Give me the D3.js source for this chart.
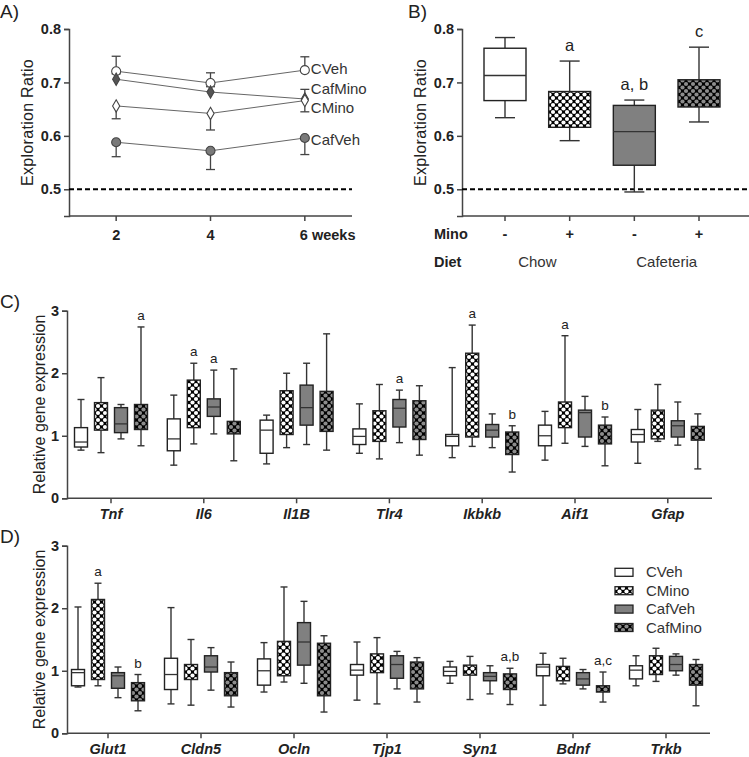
<!DOCTYPE html>
<html><head><meta charset="utf-8">
<script src="https://cdn.jsdelivr.net/npm/d3@7"></script>
<style>body{margin:0;background:#fff} svg{display:block;font-family:"Liberation Sans",Arial,sans-serif}</style>
</head><body><svg id="c" width="749" height="757"></svg>
<script>
// ---------- Panel A data ----------
const weeks=[2,4,6];
const aCVeh=[0.721,0.699,0.723];
const aCVehHi=[0.749,0.718,0.748];
const aCafMino=[0.706,0.682,0.669];
const aCafMinoHi=[0.716,0.692,0.687];
const aCMino=[0.656,0.642,0.666];
const aCMinoLo=[0.632,0.611,0.645];
const aCafVeh=[0.588,0.572,0.596];
const aCafVehLo=[0.561,0.537,0.565];
// ---------- Panel B data ----------
const groups=["CVeh","CMino","CafVeh","CafMino"];
const minoSigns=["-","+","-","+"];
const diets=["Chow","Cafeteria"];
// [min, q1, median, q3, max]
const bStats=[[0.634,0.666,0.713,0.764,0.784],[0.591,0.616,null,0.683,0.740],[0.495,0.545,0.608,0.657,0.667],[0.626,0.654,null,0.705,0.766]];
const bLetters=["","a","a, b","c"];
// ---------- Panel C data ----------
const genesC=["Tnf","Il6","Il1B","Tlr4","Ikbkb","Aif1","Gfap"];
const cCVeh=[[0.77,0.82,0.90,1.13,1.58],[0.53,0.76,0.95,1.27,1.65],[0.55,0.72,1.09,1.25,1.33],[0.72,0.86,0.99,1.11,1.51],[0.65,0.84,0.99,1.02,2.09],[0.61,0.84,1.00,1.17,1.39],[0.56,0.90,1.02,1.10,1.42]];
const cCMino=[[0.73,1.09,null,1.53,1.93],[0.87,1.13,null,1.89,2.16],[0.81,1.02,null,1.72,2.00],[0.63,0.91,null,1.40,1.82],[0.83,0.98,null,2.32,2.77],[0.88,1.13,null,1.54,2.60],[0.91,0.95,null,1.41,1.82]];
const cCafVeh=[[0.95,1.05,1.19,1.45,1.50],[1.03,1.31,1.46,1.59,2.05],[0.86,1.17,1.45,1.81,2.16],[0.89,1.14,1.44,1.58,1.73],[0.81,0.98,1.09,1.18,1.35],[0.83,0.98,1.37,1.41,1.63],[0.85,0.98,1.16,1.24,1.54]];
const cCafMino=[[0.84,1.10,null,1.50,2.74],[0.60,1.03,null,1.23,2.07],[0.77,1.07,null,1.71,2.63],[0.69,0.94,null,1.56,1.80],[0.42,0.70,null,1.06,1.16],[0.52,0.87,null,1.17,1.30],[0.47,0.93,null,1.15,1.35]];
const cLetters=[["","","","a"],["","a","a",""],["","","",""],["","","a",""],["","a","","b"],["","a","","b"],["","","",""]];
// ---------- Panel D data ----------
const genesD=["Glut1","Cldn5","Ocln","Tjp1","Syn1","Bdnf","Trkb"];
const dCVeh=[[0.74,0.76,0.97,1.02,2.02],[0.47,0.70,0.94,1.20,2.01],[0.66,0.77,1.00,1.19,1.45],[0.53,0.93,1.01,1.10,1.46],[0.80,0.92,0.99,1.06,1.15],[0.45,0.92,1.06,1.10,1.28],[0.76,0.87,1.01,1.08,1.24]];
const dCMino=[[0.76,0.86,null,2.14,2.40],[0.45,0.86,null,1.10,1.50],[0.82,0.92,null,1.47,2.34],[0.47,0.97,null,1.27,1.53],[0.54,0.93,null,1.09,1.23],[0.79,0.84,null,1.07,1.20],[0.83,0.94,null,1.24,1.36]];
const dCafVeh=[[0.57,0.72,0.92,0.97,1.06],[0.69,0.98,1.06,1.24,1.37],[0.80,1.09,1.46,1.77,2.11],[0.71,0.88,1.10,1.24,1.31],[0.63,0.84,0.91,0.97,1.08],[0.71,0.77,0.87,0.97,1.02],[0.93,1.00,1.10,1.23,1.27]];
const dCafMino=[[0.36,0.52,null,0.81,0.94],[0.42,0.60,null,0.97,1.14],[0.34,0.60,null,1.44,1.56],[0.50,0.71,null,1.14,1.21],[0.46,0.70,null,0.95,1.04],[0.50,0.66,null,0.76,0.98],[0.44,0.77,null,1.10,1.18]];
const dLetters=[["","a","","b"],["","","",""],["","","",""],["","","",""],["","","","a,b"],["","","","a,c"],["","","",""]];
const yTicksAB=[0.5,0.6,0.7,0.8];
const yTicksCD=[0,1,2,3];

const svg=d3.select("#c");
const defs=svg.append("defs");
function mkPattern(id,dot){
  const p=defs.append("pattern").attr("id",id).attr("patternUnits","userSpaceOnUse").attr("width",7).attr("height",7);
  p.append("rect").attr("width",7).attr("height",7).attr("fill","#000");
  [[0,0],[7,0],[0,7],[7,7],[3.5,3.5]].forEach(([x,y])=>p.append("circle").attr("cx",x).attr("cy",y).attr("r",2.1).attr("fill",dot));
}
mkPattern("pW","#fff");
mkPattern("pG","#8c8c8c");
const fills={CVeh:"#fff",CMino:"url(#pW)",CafVeh:"#808080",CafMino:"url(#pG)"};
const ink="#222";
const txt="#222";

function yAxis(g,scale,x,ticks,fmt){
  const a=g.append("g").attr("transform",`translate(${x},0)`)
    .call(d3.axisLeft(scale).tickValues(ticks).tickFormat(fmt).tickSize(5).tickPadding(3));
  a.select(".domain").attr("stroke","#444").attr("stroke-width",1.5);
  a.selectAll(".tick line").attr("stroke","#444").attr("stroke-width",1.5);
  a.selectAll("text").attr("font-size",14.5).attr("font-weight","bold").style("fill",txt).attr("font-family","Liberation Sans, Arial, sans-serif");
  return a;
}

// ================= Panel A =================
const gA=svg.append("g");
const xA=d3.scaleLinear().domain([1,7]).range([69,352]);
const yA=d3.scaleLinear().domain([0.45,0.8]).range([216,29]);
yAxis(gA,yA,69,yTicksAB,d3.format(".1f"));
gA.append("line").attr("x1",xA(1)).attr("x2",xA(7)).attr("y1",yA(0.45)).attr("y2",yA(0.45)).attr("stroke","#444").attr("stroke-width",1.5);
weeks.forEach(w=>{
  gA.append("line").attr("x1",xA(w)).attr("x2",xA(w)).attr("y1",yA(0.45)).attr("y2",yA(0.45)+5).attr("stroke","#444").attr("stroke-width",1.5);
});
gA.selectAll(".xl").data(weeks).join("text").attr("x",d=>xA(d)).attr("y",240).attr("text-anchor",d=>d===6?"start":"middle")
  .attr("dx",d=>d===6?-5:0)
  .attr("font-size",14.5).attr("font-weight","bold").style("fill",txt).text(d=>d===6?"6 weeks":d);
gA.append("line").attr("x1",xA(1)).attr("x2",xA(7)).attr("y1",yA(0.5)).attr("y2",yA(0.5)).attr("stroke","#000").attr("stroke-width",2).attr("stroke-dasharray","5,3");
gA.append("text").attr("transform",`translate(33,${(yA(0.8)+yA(0.45))/2}) rotate(-90)`).attr("text-anchor","middle").attr("font-size",16).style("fill",txt).attr("letter-spacing",0.3).text("Exploration  Ratio");
gA.append("text").attr("x",0).attr("y",18).attr("font-size",19).style("fill",txt).text("A)");
const seriesA=[
  {name:"CVeh",v:aCVeh,e:aCVehHi,shape:"circle",fill:"#fff",ly:74},
  {name:"CafMino",v:aCafMino,e:aCafMinoHi,shape:"diamond",fill:"#555",ly:94},
  {name:"CMino",v:aCMino,e:aCMinoLo,shape:"diamond",fill:"#fff",ly:112.5},
  {name:"CafVeh",v:aCafVeh,e:aCafVehLo,shape:"circle",fill:"#7a7a7a",ly:144.5}
];
const lineA=d3.line().x((d,i)=>xA(weeks[i])).y(d=>yA(d));
seriesA.forEach(s=>{
  gA.append("path").attr("d",lineA(s.v)).attr("fill","none").attr("stroke","#666").attr("stroke-width",1);
});
seriesA.forEach(s=>{
  s.v.forEach((v,i)=>{
    const x=xA(weeks[i]);
    gA.append("line").attr("x1",x).attr("x2",x).attr("y1",yA(v)).attr("y2",yA(s.e[i])).attr("stroke","#444").attr("stroke-width",1.3);
    gA.append("line").attr("x1",x-4.5).attr("x2",x+4.5).attr("y1",yA(s.e[i])).attr("y2",yA(s.e[i])).attr("stroke","#444").attr("stroke-width",1.3);
  });
});
seriesA.forEach(s=>{
  const sym=d3.symbol().type(s.shape==="circle"?d3.symbolCircle:d3.symbolDiamond).size(s.shape==="circle"?64:44);
  s.v.forEach((v,i)=>{
    gA.append("path").attr("d",sym()).attr("transform",`translate(${xA(weeks[i])},${yA(v)})`).attr("fill",s.fill).attr("stroke","#444").attr("stroke-width",1.1);
  });
  gA.append("text").attr("x",xA(6)+6).attr("y",s.ly).attr("font-size",15).style("fill","#333").text(s.name);
});

// ================= Panel B =================
const gB=svg.append("g");
const yB=d3.scaleLinear().domain([0.45,0.8]).range([216,29]);
const xB=d3.scalePoint().domain(groups).range([505,699]);
yAxis(gB,yB,462,yTicksAB,d3.format(".1f"));
gB.append("line").attr("x1",462).attr("x2",749).attr("y1",yB(0.45)).attr("y2",yB(0.45)).attr("stroke","#444").attr("stroke-width",1.5);
gB.append("line").attr("x1",462).attr("x2",749).attr("y1",yB(0.5)).attr("y2",yB(0.5)).attr("stroke","#000").attr("stroke-width",2).attr("stroke-dasharray","5,3");
groups.forEach((g,i)=>{
  const x=xB(g);
  gB.append("line").attr("x1",x).attr("x2",x).attr("y1",yB(0.45)).attr("y2",yB(0.45)+5).attr("stroke","#444").attr("stroke-width",1.5);
  gB.append("text").attr("x",x).attr("y",239).attr("text-anchor","middle").attr("font-size",14.5).attr("font-weight","bold").style("fill",txt).text(minoSigns[i]);
});
gB.append("text").attr("transform",`translate(426,${(yB(0.8)+yB(0.45))/2}) rotate(-90)`).attr("text-anchor","middle").attr("font-size",16).style("fill",txt).attr("letter-spacing",0.3).text("Exploration Ratio");
gB.append("text").attr("x",408).attr("y",18).attr("font-size",19).style("fill",txt).text("B)");
gB.append("text").attr("x",434).attr("y",239).attr("font-size",14.5).attr("font-weight","bold").style("fill",txt).text("Mino");
gB.append("text").attr("x",434).attr("y",267).attr("font-size",14.5).attr("font-weight","bold").style("fill",txt).text("Diet");
diets.forEach((d,i)=>{
  const cx=(xB(groups[i*2])+xB(groups[i*2+1]))/2;
  gB.append("text").attr("x",cx).attr("y",267).attr("text-anchor","middle").attr("font-size",15).style("fill","#333").text(d);
});
function drawBox(g,x,w,cap,s,fill,ys,lw){
  const [mn,q1,md,q3,mx]=s;
  g.append("line").attr("x1",x).attr("x2",x).attr("y1",ys(mx)).attr("y2",ys(q3)).attr("stroke","#333").attr("stroke-width",lw);
  g.append("line").attr("x1",x).attr("x2",x).attr("y1",ys(q1)).attr("y2",ys(mn)).attr("stroke","#333").attr("stroke-width",lw);
  g.append("line").attr("x1",x-cap/2).attr("x2",x+cap/2).attr("y1",ys(mx)).attr("y2",ys(mx)).attr("stroke","#333").attr("stroke-width",lw);
  g.append("line").attr("x1",x-cap/2).attr("x2",x+cap/2).attr("y1",ys(mn)).attr("y2",ys(mn)).attr("stroke","#333").attr("stroke-width",lw);
  g.append("rect").attr("x",x-w/2).attr("y",ys(q3)).attr("width",w).attr("height",ys(q1)-ys(q3)).attr("fill",fill).attr("stroke",ink).attr("stroke-width",1.4);
  if(md!==null) g.append("line").attr("x1",x-w/2).attr("x2",x+w/2).attr("y1",ys(md)).attr("y2",ys(md)).attr("stroke","#333").attr("stroke-width",1.3);
}
groups.forEach((g,i)=>{
  drawBox(gB,xB(g),42,20,bStats[i],fills[g],yB,1.4);
  if(bLetters[i]) gB.append("text").attr("x",xB(g)).attr("y",yB(bStats[i][4])-10).attr("text-anchor","middle").attr("font-size",16.5).style("fill",txt).text(bLetters[i]);
});

// ================= Panels C & D =================
function genePanel(genes,data,letters,y0,y1,xr,xEnd,label,labelY,legend){
  const g=svg.append("g");
  const y=d3.scaleLinear().domain([0,3]).range([y0,y1]);
  const x=d3.scalePoint().domain(genes).range(xr).padding(0.5);
  const xi=d3.scaleBand().domain(groups).range([-40,40]).paddingInner(0.35).paddingOuter(0.175);
  yAxis(g,y,67,yTicksCD,d3.format("d"));
  g.append("line").attr("x1",67).attr("x2",xEnd).attr("y1",y(0)).attr("y2",y(0)).attr("stroke","#444").attr("stroke-width",1.5);
  genes.forEach((gn,gi)=>{
    const cx=x(gn);
    g.append("line").attr("x1",cx).attr("x2",cx).attr("y1",y(0)).attr("y2",y(0)+5).attr("stroke","#444").attr("stroke-width",1.5);
    g.append("text").attr("x",cx).attr("y",y(0)+21).attr("text-anchor","middle").attr("font-size",14.5).attr("font-weight","bold").attr("font-style","italic").style("fill",txt).text(gn);
    groups.forEach((grp,k)=>{
      const bx=cx+xi(grp)+xi.bandwidth()/2;
      const s=data[k][gi];
      drawBox(g,bx,xi.bandwidth(),7,s,fills[grp],y,1.4);
      const L=letters[gi][k];
      if(L) g.append("text").attr("x",bx).attr("y",y(s[4])-7).attr("text-anchor","middle").attr("font-size",13.5).style("fill",txt).text(L);
    });
  });
  g.append("text").attr("transform",`translate(45,${(y0+y1)/2}) rotate(-90)`).attr("text-anchor","middle").attr("font-size",16).style("fill",txt).text("Relative gene expression");
  g.append("text").attr("x",0).attr("y",labelY).attr("font-size",19).style("fill",txt).text(label);
  if(legend){
    groups.forEach((grp,k)=>{
      const ly=568.3+k*18.4;
      g.append("rect").attr("x",615).attr("y",ly).attr("width",18).attr("height",8).attr("fill",fills[grp]).attr("stroke",ink).attr("stroke-width",1.3);
      g.append("text").attr("x",646).attr("y",ly+9).attr("font-size",15).style("fill","#333").text(grp);
    });
  }
}
genePanel(genesC,[cCVeh,cCMino,cCafVeh,cCafMino],cLetters,498.3,310.7,[64.6,714.2],712,"C)",308,false);
genePanel(genesD,[dCVeh,dCMino,dCafVeh,dCafMino],dLetters,733.3,545.7,[61.5,712.5],710,"D)",543,true);
</script></body></html>
